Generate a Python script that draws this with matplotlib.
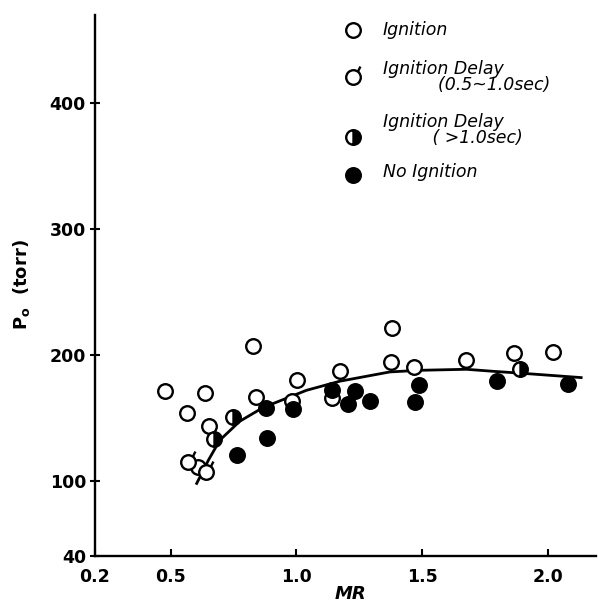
import matplotlib
matplotlib.use("Agg")
import matplotlib.pyplot as plt
import numpy as np
from matplotlib.path import Path

# ---- data ----
ign_x = [0.478, 0.637, 0.567, 0.654, 0.828, 0.839, 1.003, 0.984, 1.175, 1.140,
         1.381, 1.377, 1.469, 1.675, 1.863, 2.019, 0.610]
ign_y = [171.2, 169.6, 153.7, 143.7, 206.7, 166.4, 179.7, 163.0, 186.8, 165.4,
         221.0, 194.0, 190.0, 195.8, 201.7, 201.9, 110.9]

delay_x = [0.570, 0.639]
delay_y = [114.8, 106.9]

long_delay_x = [0.749, 0.674, 1.889]
long_delay_y = [150.1, 132.6, 188.4]

noign_x = [0.766, 0.881, 0.986, 0.884, 1.232, 1.206, 1.293, 1.488, 1.470, 1.796,
           2.078, 1.140]
noign_y = [120.2, 158.0, 156.7, 133.4, 171.0, 160.9, 163.3, 176.3, 162.5, 179.1,
           177.1, 171.7]

curve_x = [0.604, 0.650, 0.696, 0.775, 0.855, 0.908, 1.040, 1.172, 1.371, 1.490,
           1.675, 1.781, 1.913, 2.131]
curve_y = [97.7, 116.0, 132.1, 147.1, 156.5, 161.2, 171.7, 178.9, 186.3, 187.6,
           188.4, 186.8, 185.0, 181.8]

xticks = [0.2, 0.5, 1.0, 1.5, 2.0]
xtick_labels = ["0.2", "0.5", "1.0", "1.5", "2.0"]
yticks = [40, 100, 200, 300, 400]
ytick_labels = ["40", "100", "200", "300", "400"]

legend_labels = ["Ignition", "Ignition Delay\n          (0.5~1.0sec)",
                 "Ignition Delay\n         ( >1.0sec)", "No Ignition"]

# ---- custom marker: circle with small tail (ignition delay) ----
circ = Path.unit_circle()
tail_verts = [(0.6, 0.8), (0.95, 1.5)]
verts = np.concatenate([circ.vertices, np.array(tail_verts)])
codes = np.concatenate([circ.codes, [Path.MOVETO, Path.LINETO]])
delay_marker = Path(verts, codes)
tail_scale = 1.5

fig = plt.figure(figsize=(5.98, 6.04), dpi=100)
ax = fig.add_axes([95 / 598, 48 / 604, 501 / 598, 541 / 604])

ms = 10.5
mew = 1.7
ax.plot(curve_x, curve_y, color="black", lw=2.0, zorder=2)
ax.plot(ign_x, ign_y, ls="none", marker="o", ms=ms, mfc="white", mec="black",
        mew=mew, zorder=3)
ax.plot(delay_x, delay_y, ls="none", marker=delay_marker, ms=ms * tail_scale,
        mfc="white", mec="black", mew=mew, zorder=3)
ax.plot(noign_x, noign_y, ls="none", marker="o", ms=ms, mfc="black", mec="black",
        mew=mew, zorder=4)
ax.plot(long_delay_x, long_delay_y, ls="none", marker="o", ms=ms, fillstyle="right",
        mfc="black", mfcalt="white", mec="black", mew=mew, zorder=4)

ax.set_xlim(0.2, 2.19)
ax.set_ylim(40, 470)
ax.spines["top"].set_visible(False)
ax.spines["right"].set_visible(False)
for s in ("left", "bottom"):
    ax.spines[s].set_linewidth(1.7)

ax.set_xticks(xticks)
ax.set_xticklabels(xtick_labels, fontweight="bold")
ax.set_yticks(yticks)
ax.set_yticklabels(ytick_labels, fontweight="bold")
ax.tick_params(axis="x", direction="in", length=5, width=1.5, pad=9, labelsize=12.5)
ax.tick_params(axis="y", direction="inout", length=7, width=1.5, pad=3, labelsize=12.5)

fig.text(350 / 598, 1 - 594 / 604, "MR", ha="center", va="center", fontsize=13,
         fontweight="bold", style="italic")
fig.text(22 / 598, 1 - 285 / 604, r"P$_\mathregular{o}$  (torr)", rotation=90,
         ha="center", va="center", fontsize=13, fontweight="bold")

# ---- legend drawn manually ----
leg_y = [30, 77, 137, 175]
leg_text_y = [30, 77, 130, 172]
mx = 353 / 598
tx = 383 / 598
styles = [
    dict(marker="o", mfc="white", mec="black"),
    dict(marker=delay_marker, mfc="white", mec="black"),
    dict(marker="o", fillstyle="right", mfc="black", mfcalt="white", mec="black"),
    dict(marker="o", mfc="black", mec="black"),
]
for i, lab in enumerate(legend_labels):
    st = dict(styles[i])
    size = ms * tail_scale if i == 1 else ms
    fig.add_artist(plt.Line2D([mx], [1 - leg_y[i] / 604], ls="none", ms=size,
                              mew=mew, transform=fig.transFigure, **st))
    fig.text(tx, 1 - leg_text_y[i] / 604, lab, ha="left", va="center",
             fontsize=12.5, style="italic", linespacing=0.9)

fig.savefig("out.png", dpi=100)
